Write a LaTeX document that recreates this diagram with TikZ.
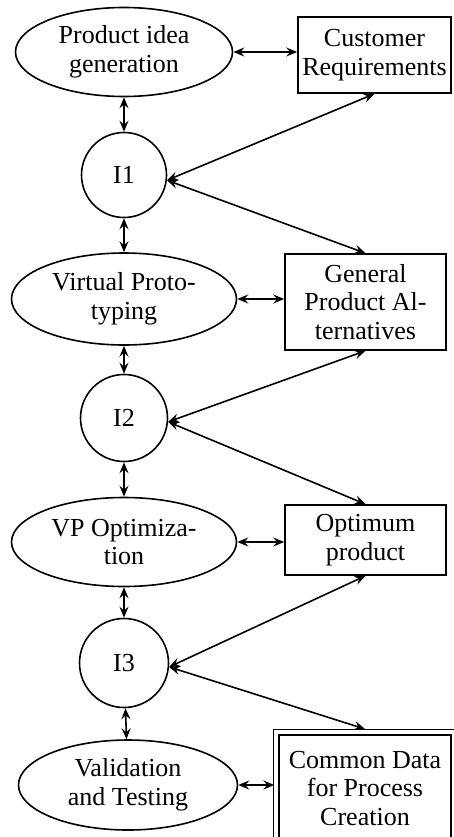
\documentclass[tikz,border=0pt]{standalone}
\usepackage{fontspec}
\setmainfont{Liberation Serif}
\usetikzlibrary{shapes.geometric,arrows.meta}

\begin{document}
\begin{tikzpicture}[x=1pt,y=1pt,
    font=\fontsize{26}{28.5}\selectfont,
    stage/.style={draw, ellipse, line width=1.6pt, inner sep=0pt, align=center},
    item/.style={draw, circle, line width=1.6pt, minimum size=85pt, inner sep=0pt},
    store/.style={draw, rectangle, line width=1.6pt, inner sep=0pt, align=center},
    link/.style={{Stealth[length=11pt,width=9pt,inset=4pt]}-{Stealth[length=11pt,width=9pt,inset=4pt]}, line width=1.6pt}]
  \useasboundingbox (0,0) rectangle (454,-837);

  % left column
  \node[stage, minimum width=217pt, minimum height=89pt] (idea) at (124,-52) {Product idea\\generation};
  \node[item] (I1) at (124,-175) {I1};
  \node[stage, minimum width=225pt, minimum height=92pt] (proto) at (124,-299) {Virtual Proto-\\typing};
  \node[item, minimum size=87pt] (I2) at (124,-418) {I2};
  \node[stage, minimum width=225pt, minimum height=89pt] (optim) at (124,-542) {VP Optimiza-\\tion};
  \node[item, minimum size=89pt] (I3) at (124,-663) {I3};
  \node[stage, minimum width=219pt, minimum height=90pt] (valid) at (128,-785) {Validation\\and Testing};

  % right column
  \node[store, minimum width=153pt, minimum height=76pt] (cust) at (374.5,-55) {Customer\\Requirements};
  \node[store, minimum width=161pt, minimum height=96pt] (alts) at (365.5,-302) {General\\Product Al-\\ternatives};
  \node[store, minimum width=161pt, minimum height=70pt] (best) at (365.5,-540) {Optimum\\product};
  \node[store, line width=2pt, minimum width=172pt, minimum height=107pt] (data) at (365,-788.5) {Common Data\\for Process\\Creation};
  \draw[line width=0.9pt] ([shift={(-5,5)}]data.north west) rectangle ([shift={(5,-5)}]data.south east);

  % vertical links
  \draw[link] (idea) -- (I1);
  \draw[link] (I1) -- (proto);
  \draw[link] (proto) -- (I2);
  \draw[link] (I2) -- (optim);
  \draw[link] (optim) -- (I3);
  \draw[link] (I3) -- (valid);

  % horizontal links
  \draw[link] (idea.east) -- (idea.east -| cust.west);
  \draw[link] (proto.east) -- (proto.east -| alts.west);
  \draw[link] (optim.east) -- (optim.east -| best.west);
  \draw[link] (valid.east) -- ++(36,0);

  % diagonal links
  \draw[link] (I1.-7) -- (cust.south);
  \draw[link] (I1.-7) -- (alts.north);
  \draw[link] (I2.-5) -- (alts.south);
  \draw[link] (I2.-5) -- (best.north);
  \draw[link] (I3.-5) -- (best.south);
  \draw[link] (I3.-5) -- ([yshift=5]data.north);
\end{tikzpicture}
\end{document}
